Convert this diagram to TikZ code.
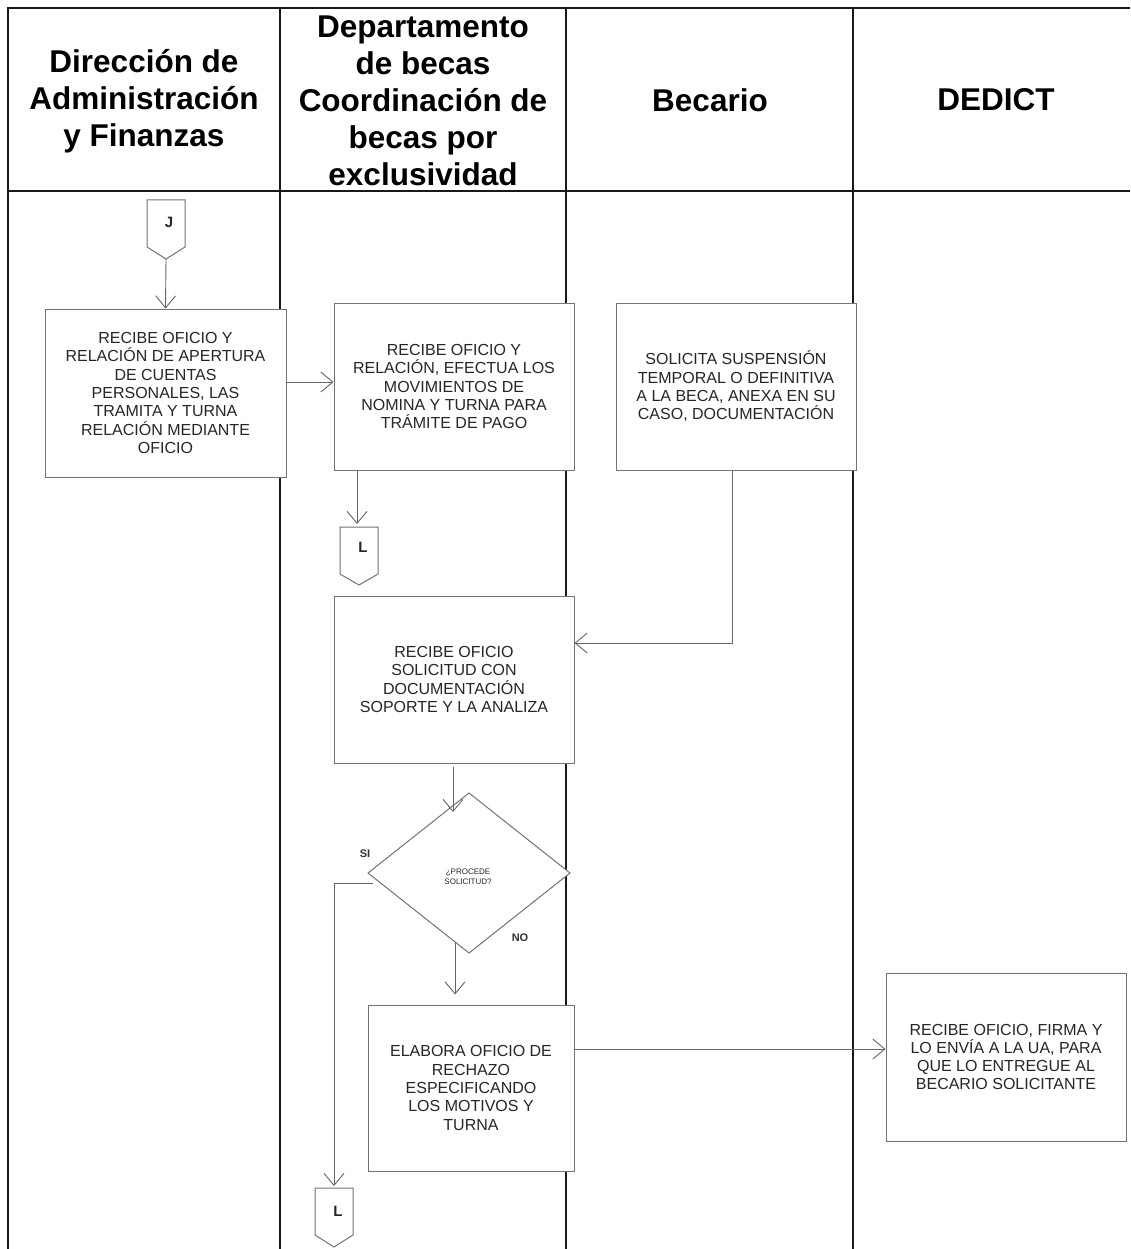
\documentclass[tikz,border=0pt]{standalone}
\usepackage{fontspec}
\setmainfont{Liberation Sans}
\usetikzlibrary{arrows.meta}
\begin{document}
\begin{tikzpicture}[x=1pt,y=-1pt,
  lane/.style={line width=1.6pt, draw=black!90},
  hdr/.style={font=\fontsize{31.5}{37}\selectfont\bfseries, align=center, text=black, inner sep=0pt},
  proc/.style={draw=black!55, line width=1pt, fill=white, inner sep=0pt, align=center,
    font=\fontsize{16}{18.3}\selectfont, text=black!85},
  offpg/.style={draw=black!55, line width=1pt, fill=white},
  conn/.style={font=\fontsize{15}{16}\selectfont\bfseries, text=black!85, inner sep=0pt},
  flow/.style={draw=black!60, line width=0.9pt, -{Straight Barb[length=12pt,width=20pt]}},
  lbl/.style={font=\fontsize{11}{12}\selectfont\bfseries, text=black!80, inner sep=0pt}
]
\useasboundingbox (0,0) rectangle (1130,1249);
\fill[white] (0,0) rectangle (1130,1249);

% swimlane table
\draw[lane] (8,1249) -- (8,8) -- (1130,8);
\draw[lane] (8,191) -- (1130,191);
\foreach \x in {280,566,853} \draw[lane] (\x,8) -- (\x,1249);

% headers
\node[hdr] (h1) at (144,101) {Dirección de\\Administración\\y Finanzas};
\node[hdr] (h2) at (423,101) {Departamento\\de becas\\Coordinación de\\becas por\\exclusividad};
\node[hdr] (h3) at (710,100) {Becario};
\node[hdr] (h4) at (996,100) {DEDICT};

% off-page connector J
\draw[offpg] (147,200) -- (185,200) -- (185,247) -- (166,259) -- (147,247) -- cycle;
\node[conn] (J) at (169,222) {J};
\coordinate (Jtip) at (166,259);

% processes
\node[proc, minimum width=241pt, minimum height=168pt] (p1) at (165.5,393)
  {RECIBE OFICIO Y\\RELACIÓN DE APERTURA\\DE CUENTAS\\PERSONALES, LAS\\TRAMITA Y TURNA\\RELACIÓN MEDIANTE\\OFICIO};
\node[proc, minimum width=240pt, minimum height=167pt] (p2) at (454,386.5)
  {RECIBE OFICIO Y\\RELACIÓN, EFECTUA LOS\\MOVIMIENTOS DE\\NOMINA Y TURNA PARA\\TRÁMITE DE PAGO};
\node[proc, minimum width=240pt, minimum height=167pt] (p3) at (736,386.5)
  {SOLICITA SUSPENSIÓN\\TEMPORAL O DEFINITIVA\\A LA BECA, ANEXA EN SU\\CASO, DOCUMENTACIÓN};
\node[proc, minimum width=240pt, minimum height=167pt] (p4) at (454,679.5)
  {RECIBE OFICIO\\SOLICITUD CON\\DOCUMENTACIÓN\\SOPORTE Y LA ANALIZA};
\node[proc, minimum width=206pt, minimum height=166pt] (p5) at (471,1088)
  {ELABORA OFICIO DE\\RECHAZO\\ESPECIFICANDO\\LOS MOTIVOS Y\\TURNA};
\node[proc, minimum width=240pt, minimum height=168pt] (p6) at (1006,1057)
  {RECIBE OFICIO, FIRMA Y\\LO ENVÍA A LA UA, PARA\\QUE LO ENTREGUE AL\\BECARIO SOLICITANTE};

% off-page connector L (top)
\draw[offpg] (340,527) -- (378,527) -- (378,574) -- (359,585) -- (340,574) -- cycle;
\node[conn] (L1) at (363,547) {L};
\coordinate (L1top) at (357,527);

% decision
\draw[offpg] (469,793) -- (570,873) -- (469,953) -- (368,873) -- cycle;
\node[font=\fontsize{8}{10}\selectfont, align=center, text=black!85, inner sep=0pt] (D) at (468,877) {¿PROCEDE\\SOLICITUD?};
\coordinate (Dtop) at (453,812);
\coordinate (Dl) at (373,883);
\coordinate (Dn) at (455,943);
\node[lbl] (si) at (365,854) {SI};
\node[lbl] (no) at (520,938) {NO};

% off-page connector L (bottom)
\draw[offpg] (315,1188) -- (353,1188) -- (353,1235) -- (334,1247) -- (315,1235) -- cycle;
\node[conn] (L2) at (338,1211) {L};
\coordinate (L2top) at (334,1188);

% connectors
\draw[flow] (Jtip) -- (p1.north);
\coordinate (a1) at ([yshift=11pt]p1.east);
\draw[flow] (a1) -- (a1 -| p2.west);
\draw[flow] (p2.south -| L1top) -- ([yshift=3pt]L1top);
\coordinate (b1) at (732,643);
\draw[flow] (p3.south -| b1) -- (b1) -- (b1 -| p4.east);
\draw[flow] ([yshift=-3pt]p4.south -| Dtop) -- (Dtop);
\draw[flow] (Dl) -- (Dl -| L2top) -- ([yshift=2pt]L2top);
\draw[flow, shorten >=10pt] (Dn) -- (Dn |- p5.north);
\coordinate (c5) at ([yshift=39pt]p5.east);
\draw[flow] (c5) -- (c5 -| p6.west);
\end{tikzpicture}
\end{document}
